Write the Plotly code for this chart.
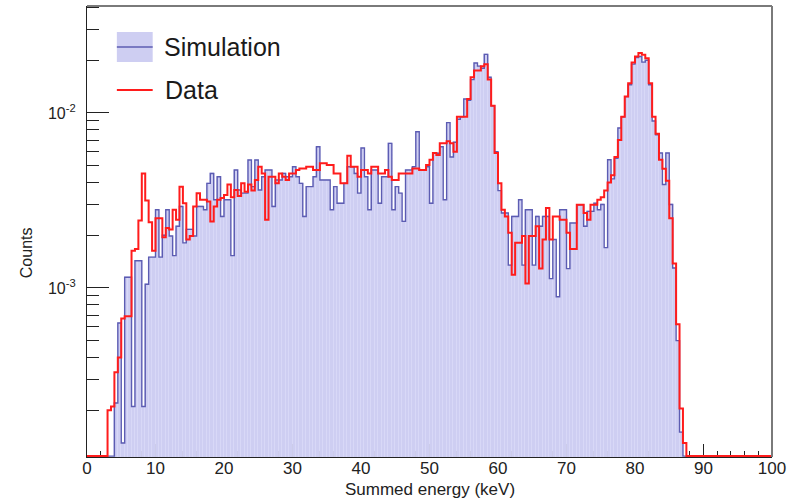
import numpy as np
import plotly.graph_objects as go

# Summed-energy spectrum, 0.5 keV bins over 0-100 keV (normalised counts)
bin_edges = np.arange(0.0, 100.0 + 0.25, 0.5)
bin_centers = bin_edges[:-1] + 0.25

simulation = [
    0, 0, 0, 0, 0, 0, 0, 0, 2.2e-4, 6.3e-4,
    1.3e-4, 1.15e-3, 1.15e-3, 2.1e-4, 1.43e-3, 1.43e-3, 2.1e-4, 1.05e-3, 1.5e-3, 1.5e-3,
    2.8e-3, 1.5e-3, 2.0e-3, 2.8e-3, 1.98e-3, 1.53e-3, 2.25e-3, 2.92e-3, 1.81e-3, 2.16e-3,
    2.16e-3, 1.98e-3, 2.92e-3, 2.92e-3, 2.80e-3, 3.96e-3, 4.51e-3, 3.19e-3, 4.32e-3, 2.56e-3,
    3.19e-3, 3.19e-3, 1.53e-3, 4.72e-3, 3.63e-3, 3.48e-3, 3.48e-3, 5.38e-3, 3.79e-3, 5.38e-3,
    3.63e-3, 4.32e-3, 4.72e-3, 4.72e-3, 2.92e-3, 4.14e-3, 4.14e-3, 4.51e-3, 4.32e-3, 4.32e-3,
    4.93e-3, 4.32e-3, 3.96e-3, 2.56e-3, 3.79e-3, 3.79e-3, 4.32e-3, 6.41e-3, 4.14e-3, 4.14e-3,
    4.14e-3, 2.80e-3, 3.79e-3, 3.05e-3, 3.05e-3, 3.96e-3, 4.93e-3, 4.93e-3, 4.51e-3, 3.48e-3,
    6.3e-3, 4.32e-3, 2.80e-3, 4.72e-3, 4.72e-3, 3.05e-3, 4.32e-3, 4.32e-3, 6.7e-3, 2.80e-3,
    3.79e-3, 3.48e-3, 2.40e-3, 4.72e-3, 4.72e-3, 4.93e-3, 7.8e-3, 4.72e-3, 4.72e-3, 4.93e-3,
    3.05e-3, 5.88e-3, 5.88e-3, 6.41e-3, 3.19e-3, 8.8e-3, 5.6e-3, 6.8e-3, 9.2e-3, 9.5e-3,
    0.012, 0.0118, 0.0155, 0.0193, 0.0185, 0.018, 0.0216, 0.016, 0.011, 6.0e-3,
    3.6e-3, 2.68e-3, 2.68e-3, 1.35e-3, 2.56e-3, 2.56e-3, 3.19e-3, 1.35e-3, 2.80e-3, 2.80e-3,
    1.35e-3, 2.56e-3, 2.25e-3, 2.56e-3, 2.56e-3, 1.13e-3, 1.89e-3, 8.9e-4, 2.80e-3, 2.80e-3,
    1.29e-3, 2.35e-3, 2.35e-3, 2.99e-3, 2.99e-3, 2.25e-3, 2.74e-3, 2.74e-3, 3.05e-3, 2.8e-3,
    3.0e-3, 1.7e-3, 5.4e-3, 4.2e-3, 5.5e-3, 8.2e-3, 9.5e-3, 0.0124, 0.0145, 0.019,
    0.0207, 0.021, 0.0195, 0.02, 0.0145, 9.0e-3, 7.5e-3, 5.9e-3, 3.9e-3, 5.9e-3,
    3.0e-3, 1.3e-3, 5.0e-4, 1.5e-4, 0, 0, 0, 0, 0, 0,
    0, 0, 0, 0, 0, 0, 0, 0, 0, 0,
    0, 0, 0, 0, 0, 0, 0, 0, 0, 0,
]

data = [
    0, 0, 0, 0, 0, 0, 2.0e-4, 2.1e-4, 3.3e-4, 4.0e-4,
    6.7e-4, 6.9e-4, 6.9e-4, 1.63e-3, 1.67e-3, 2.43e-3, 4.5e-3, 3.16e-3, 2.37e-3, 1.63e-3,
    2.5e-3, 2.5e-3, 1.95e-3, 2.2e-3, 2.16e-3, 2.80e-3, 2.45e-3, 3.79e-3, 3.05e-3, 1.89e-3,
    1.98e-3, 2.92e-3, 3.48e-3, 3.19e-3, 3.19e-3, 3.12e-3, 2.40e-3, 2.92e-3, 3.19e-3, 3.26e-3,
    3.40e-3, 3.9e-3, 3.3e-3, 3.63e-3, 3.35e-3, 3.96e-3, 3.55e-3, 3.9e-3, 3.6e-3, 4.14e-3,
    4.93e-3, 4.51e-3, 2.45e-3, 4.32e-3, 4.32e-3, 3.96e-3, 4.51e-3, 4.32e-3, 4.14e-3, 4.51e-3,
    4.51e-3, 4.72e-3, 4.82e-3, 4.82e-3, 4.93e-3, 4.93e-3, 4.72e-3, 4.72e-3, 5.15e-3, 5.15e-3,
    5.04e-3, 5.04e-3, 4.51e-3, 4.51e-3, 3.96e-3, 3.96e-3, 5.7e-3, 4.93e-3, 4.93e-3, 4.32e-3,
    4.72e-3, 4.72e-3, 4.51e-3, 4.93e-3, 4.93e-3, 4.51e-3, 4.51e-3, 4.72e-3, 4.32e-3, 4.14e-3,
    4.14e-3, 4.51e-3, 4.51e-3, 4.51e-3, 4.51e-3, 4.82e-3, 4.82e-3, 4.72e-3, 4.72e-3, 5.04e-3,
    5.4e-3, 5.9e-3, 5.75e-3, 6.7e-3, 6.7e-3, 6.9e-3, 6.7e-3, 6.0e-3, 9.5e-3, 9.5e-3,
    9.5e-3, 0.012, 0.016, 0.0175, 0.0175, 0.0185, 0.019, 0.0155, 0.011, 5.9e-3,
    3.96e-3, 2.80e-3, 2.56e-3, 2.07e-3, 1.19e-3, 1.81e-3, 1.81e-3, 1.98e-3, 1.06e-3, 1.98e-3,
    1.98e-3, 2.25e-3, 1.29e-3, 1.89e-3, 2.86e-3, 1.89e-3, 2.56e-3, 2.56e-3, 2.45e-3, 2.45e-3,
    2.07e-3, 1.67e-3, 1.67e-3, 2.99e-3, 2.99e-3, 2.68e-3, 2.45e-3, 2.99e-3, 2.99e-3, 3.19e-3,
    3.3e-3, 3.6e-3, 4.0e-3, 4.4e-3, 5.6e-3, 7.0e-3, 9.5e-3, 0.0124, 0.0148, 0.0194,
    0.021, 0.022, 0.0215, 0.0205, 0.0148, 9.5e-3, 7.6e-3, 5.4e-3, 4.8e-3, 4.1e-3,
    2.5e-3, 1.38e-3, 6.2e-4, 2.05e-4, 1.3e-4, 0, 0, 0, 0, 0,
    0, 0, 0, 0, 0, 0, 0, 0, 0, 0,
    0, 0, 0, 0, 0, 0, 0, 0, 0, 0,
]

x_tick_vals = list(range(0, 101, 10))
y_tick_vals = [1e-3, 1e-2]
y_tick_text = ["10<sup>-3</sup>", "10<sup>-2</sup>"]

# log-axis limits (decades)
y_log_range = [-3.966, -1.389]
# empty bins are drawn just on the frame floor, as ROOT does
y_floor = 10 ** (y_log_range[0] + 0.005)

FONT = "Liberation Sans, Arial, Helvetica, sans-serif"
SIM_FILL = "rgb(206,206,242)"
SIM_SEAM = "rgb(218,218,248)"
SIM_LINE = "rgb(92,92,178)"
DATA_LINE = "rgb(255,28,28)"
AXIS_COLOR = "#222222"


def step_values(vals):
    """Histogram contents as step-line points; empty bins sit on the frame floor."""
    v = np.asarray(vals, dtype=float)
    v = np.where(v > 0, v, y_floor)
    return np.append(v, v[-1])


fig = go.Figure()

# filled simulation bins
sim_arr = np.asarray(simulation, dtype=float)
filled = sim_arr > 0
fig.add_trace(go.Bar(
    x=bin_centers[filled], y=sim_arr[filled], width=0.5,
    marker=dict(color=SIM_FILL, line=dict(color=SIM_SEAM, width=0.6)),
    name="Simulation", showlegend=False, hoverinfo="skip",
))
# simulation outline
fig.add_trace(go.Scatter(
    x=bin_edges, y=step_values(simulation), mode="lines",
    line=dict(shape="hv", color=SIM_LINE, width=1.4),
    name="Simulation", showlegend=False,
))
# measured data
fig.add_trace(go.Scatter(
    x=bin_edges, y=step_values(data), mode="lines",
    line=dict(shape="hv", color=DATA_LINE, width=2.0),
    name="Data", showlegend=False,
))

# minor ticks on the log axis: 2..9 x each decade
y_minor = [m * 10.0 ** d for d in (-4, -3, -2) for m in range(2, 10)]
y_minor = [v for v in y_minor if 10 ** y_log_range[0] < v < 10 ** y_log_range[1]]

fig.update_xaxes(
    range=[0, 100], showgrid=False, zeroline=False,
    showline=True, linecolor=AXIS_COLOR, linewidth=1.2, layer="below traces",
    ticks="inside", tickvals=x_tick_vals, ticklen=13, tickwidth=1.2, tickcolor=AXIS_COLOR,
    minor=dict(dtick=2, ticks="inside", ticklen=6, tickwidth=1.1, tickcolor=AXIS_COLOR),
    tickfont=dict(family=FONT, size=17, color=AXIS_COLOR),
    ticklabelstandoff=-5,
)
fig.update_yaxes(
    type="log", range=y_log_range, showgrid=False, zeroline=False,
    showline=True, linecolor=AXIS_COLOR, linewidth=1.2,
    ticks="inside", tickvals=y_tick_vals, ticktext=y_tick_text,
    ticklen=22, tickwidth=1.2, tickcolor=AXIS_COLOR,
    minor=dict(tickmode="array", tickvals=y_minor, ticks="inside", ticklen=12,
               tickwidth=1.1, tickcolor=AXIS_COLOR),
    tickfont=dict(family=FONT, size=16, color=AXIS_COLOR),
    ticklabelstandoff=7,
)

# frame around the plotting area (top and right sides)
fig.add_shape(type="line", xref="paper", yref="paper", x0=0, x1=1, y0=1, y1=1,
              line=dict(color="#7a7a7a", width=2), layer="above")
fig.add_shape(type="line", xref="paper", yref="paper", x0=1, x1=1, y0=0, y1=1,
              line=dict(color="#7a7a7a", width=2), layer="above")

# axis titles
fig.add_annotation(text="Summed energy (keV)", xref="paper", yref="paper",
                   x=0.5, y=-0.073, xanchor="center", yanchor="middle",
                   showarrow=False, font=dict(family=FONT, size=17, color=AXIS_COLOR))
fig.add_annotation(text="Counts", xref="paper", yref="paper", textangle=-90,
                   x=-0.089, y=0.452, xanchor="center", yanchor="middle",
                   showarrow=False, font=dict(family=FONT, size=16, color=AXIS_COLOR))

# legend
fig.add_shape(type="rect", xref="paper", yref="paper",
              x0=0.0436, x1=0.0959, y0=0.8758, y1=0.9424,
              fillcolor=SIM_FILL, line=dict(width=0), layer="above")
fig.add_shape(type="line", xref="paper", yref="paper",
              x0=0.0436, x1=0.0959, y0=0.9091, y1=0.9091,
              line=dict(color=SIM_LINE, width=1.6), layer="above")
fig.add_shape(type="line", xref="paper", yref="paper",
              x0=0.0436, x1=0.0959, y0=0.8137, y1=0.8137,
              line=dict(color=DATA_LINE, width=2), layer="above")
fig.add_annotation(text="Simulation", xref="paper", yref="paper", x=0.109, y=0.9091,
                   xanchor="left", yanchor="middle", showarrow=False,
                   font=dict(family=FONT, size=25, color="#1a1a1a"))
fig.add_annotation(text="Data", xref="paper", yref="paper", x=0.1105, y=0.8137,
                   xanchor="left", yanchor="middle", showarrow=False,
                   font=dict(family=FONT, size=25, color="#1a1a1a"))

fig.update_layout(
    width=792, height=501,
    margin=dict(l=87, r=17, t=6, b=44),
    paper_bgcolor="white", plot_bgcolor="white",
    showlegend=False, bargap=0,
)

fig.write_html("out.html")
